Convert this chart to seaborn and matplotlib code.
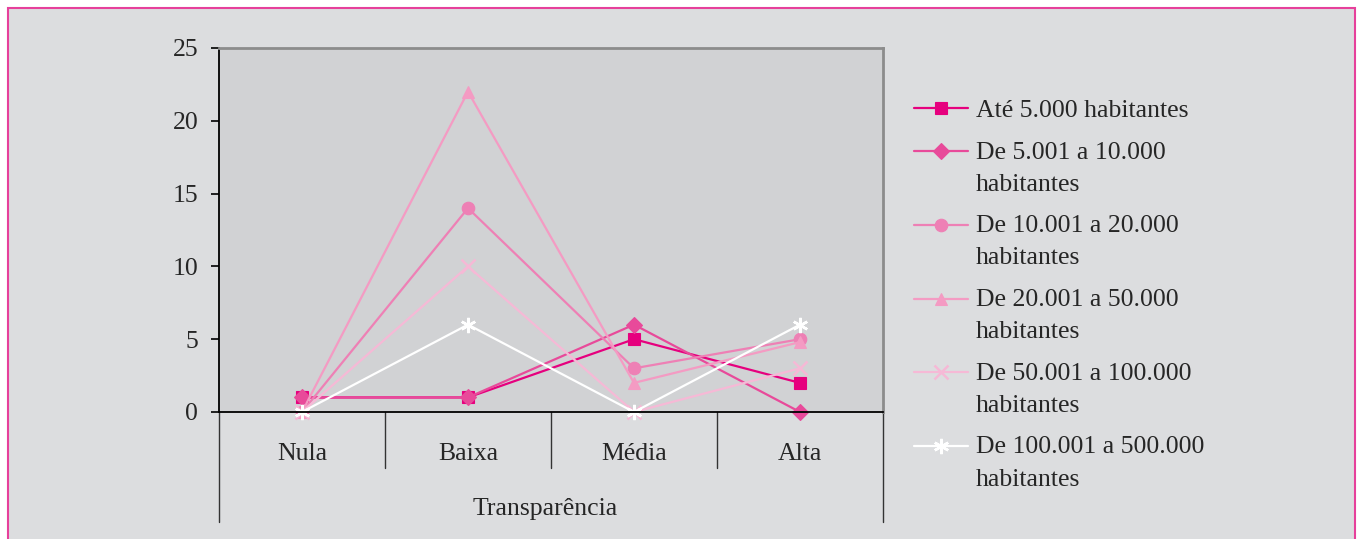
import numpy as np
import pandas as pd
import matplotlib
matplotlib.use("Agg")
import matplotlib.pyplot as plt
import matplotlib.patches as mpatches
import seaborn as sns

# Data: number of municipalities per transparency level, by population band
categories = ["Nula", "Baixa", "Média", "Alta"]
series_labels = [
    "Até 5.000 habitantes",
    "De 5.001 a 10.000\nhabitantes",
    "De 10.001 a 20.000\nhabitantes",
    "De 20.001 a 50.000\nhabitantes",
    "De 50.001 a 100.000\nhabitantes",
    "De 100.001 a 500.000\nhabitantes",
]
ate_5mil = [1, 1, 5, 2]
de_5_a_10mil = [1, 1, 6, 0]
de_10_a_20mil = [0, 14, 3, 5]
de_20_a_50mil = [0, 22, 2, 4.8]
de_50_a_100mil = [0, 10, 0, 3]
de_100_a_500mil = [0, 6, 0, 6]
series_values = [ate_5mil, de_5_a_10mil, de_10_a_20mil,
                 de_20_a_50mil, de_50_a_100mil, de_100_a_500mil]
y_ticks = [0, 5, 10, 15, 20, 25]
x_title = "Transparência"

colors = ["#E6007E", "#E84A9A", "#EE80B5", "#F49BC3", "#F6B9D6", "#FFFFFF"]
markers = ["s", "D", "o", "^", "x", (6, 2, 0)]
msizes = [9, 8, 9, 9, 10, 11]

sns.set_theme(style="white")
plt.rcParams["font.family"] = ["Liberation Serif", "DejaVu Serif"]
plt.rcParams["font.size"] = 18.5

W, H = 1358, 539
fig = plt.figure(figsize=(W / 100, H / 100), dpi=100)
fig.patch.set_facecolor("white")
# outer panel with pink frame
fig.patches.append(mpatches.Rectangle(
    (8 / W, -0.05), (1355 - 8) / W, 1.05 - 8 / H,
    transform=fig.transFigure, facecolor="#DCDDDF",
    edgecolor="#E6409B", linewidth=1.5, zorder=-10))

ax = fig.add_axes([219 / W, 127 / H, 664 / W, 364 / H])
ax.set_facecolor("#D1D2D4")

for vals, lab, col, mk, ms in zip(series_values, series_labels, colors, markers, msizes):
    df = pd.DataFrame({"cat": categories, "val": vals})
    sns.lineplot(data=df, x="cat", y="val", ax=ax, color=col, marker=mk,
                 markersize=ms, markeredgecolor=col, markerfacecolor=col,
                 markeredgewidth=1.8 if mk in ("x",) or isinstance(mk, tuple) else 0.8,
                 linewidth=1.6, label=lab, clip_on=False, sort=False,
                 legend=False)

ax.set_xlim(-0.5, 3.5)
ax.set_ylim(0, 25)
ax.set_yticks(y_ticks)
ax.set_xticks(range(len(categories)))
ax.set_xticklabels(categories)
ax.tick_params(axis="y", direction="out", length=6, width=1.2, color="black",
               pad=9, labelsize=18.5, left=True)
ax.tick_params(axis="x", length=0, pad=22, labelsize=18.5)
ax.set_ylabel("")
ax.set_xlabel(x_title, fontsize=18.5, labelpad=24)
ax.xaxis.label.set_x((545 - 219) / 664)

for side in ("top", "right"):
    ax.spines[side].set_color("#8C8C8C")
    ax.spines[side].set_linewidth(2)
for side in ("left", "bottom"):
    ax.spines[side].set_color("black")
    ax.spines[side].set_linewidth(1.3)

# category separators below the axis
trans = ax.get_xaxis_transform()
for xs in (0.5, 1.5, 2.5):
    ax.plot([xs, xs], [0, -0.154], transform=trans, color="#333333",
            lw=1.0, clip_on=False)
for xs in (-0.5, 3.5):
    ax.plot([xs, xs], [0, -0.302], transform=trans, color="#333333",
            lw=1.0, clip_on=False)

handles, labels = ax.get_legend_handles_labels()
handles = handles[:len(series_labels)]
labels = labels[:len(series_labels)]
leg = fig.legend(handles, labels, loc="upper left",
                 bbox_to_anchor=(914 / W, 1 - 99 / H), bbox_transform=fig.transFigure,
                 frameon=False, fontsize=18.5, handlelength=2.1,
                 handletextpad=0.3, labelspacing=0.76, borderpad=0,
                 borderaxespad=0)
for t in leg.get_texts():
    t.set_linespacing(1.6)
# align each handle with the first line of its label
for h, lab in zip(leg.legend_handles, labels):
    if "\n" in lab:
        h.set_ydata(np.asarray(h.get_ydata()) + 12.2)

fig.savefig("out.png", dpi=100, facecolor=fig.get_facecolor())
